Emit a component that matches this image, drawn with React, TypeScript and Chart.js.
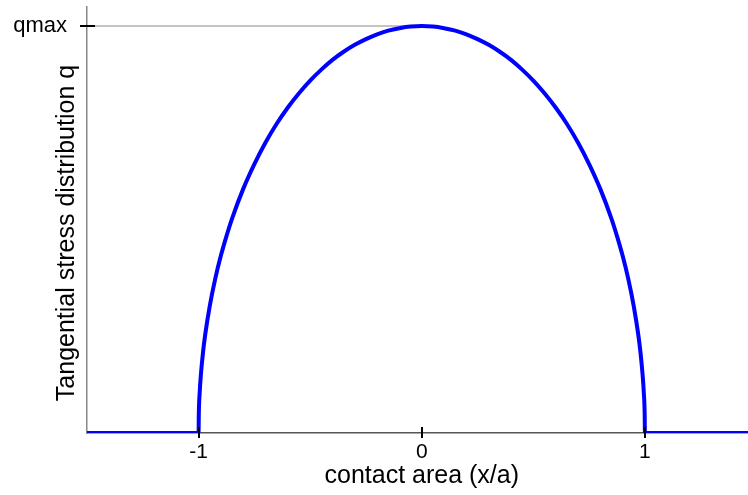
import React, { useEffect, useRef } from "react";
import { Chart, registerables } from "chart.js";

Chart.register(...registerables);

const curveX = [-1.5, -1, -0.999, -0.995, -0.99, -0.98, -0.97, -0.95, -0.925, -0.9, -0.875, -0.85, -0.8, -0.75, -0.7, -0.65, -0.6, -0.55, -0.5, -0.45, -0.4, -0.35, -0.3, -0.25, -0.2, -0.15, -0.1, -0.05, 0, 0.05, 0.1, 0.15, 0.2, 0.25, 0.3, 0.35, 0.4, 0.45, 0.5, 0.55, 0.6, 0.65, 0.7, 0.75, 0.8, 0.85, 0.875, 0.9, 0.925, 0.95, 0.97, 0.98, 0.99, 0.995, 0.999, 1, 1.462];
const curveQ = [0, 0, 0.045, 0.1, 0.141, 0.199, 0.243, 0.312, 0.38, 0.436, 0.484, 0.527, 0.6, 0.661, 0.714, 0.76, 0.8, 0.835, 0.866, 0.893, 0.917, 0.937, 0.954, 0.968, 0.98, 0.989, 0.995, 0.999, 1, 0.999, 0.995, 0.989, 0.98, 0.968, 0.954, 0.937, 0.917, 0.893, 0.866, 0.835, 0.8, 0.76, 0.714, 0.661, 0.6, 0.527, 0.484, 0.436, 0.38, 0.312, 0.243, 0.199, 0.141, 0.1, 0.045, 0, 0];
const refX = [-1.5, 0];
const refQ = [1, 1];
const xTicks = [-1, 0, 1];
const xTickLabels = ["-1", "0", "1"];
const yTicks = [1];
const yTickLabels = ["qmax"];
const xTitle = "contact area (x/a)";
const yTitle = "Tangential stress distribution q";

const FONT = "'Liberation Sans', Arial, sans-serif";

export default function App() {
  const ref = useRef<HTMLCanvasElement | null>(null);
  useEffect(() => {
    if (!ref.current) return;
    const overlay = {
      id: "overlay",
      afterDraw(chart: any) {
        const ctx = chart.ctx;
        const xs = chart.scales.x;
        const ys = chart.scales.y;
        const y0 = ys.getPixelForValue(0);
        const x0 = xs.left;
        ctx.save();
        ctx.strokeStyle = "#000";
        ctx.lineWidth = 2;
        xTicks.forEach((v) => {
          const px = Math.round(xs.getPixelForValue(v));
          ctx.beginPath();
          ctx.moveTo(px, y0 - 6);
          ctx.lineTo(px, y0 + 5);
          ctx.stroke();
        });
        yTicks.forEach((v) => {
          const py = Math.round(ys.getPixelForValue(v));
          ctx.beginPath();
          ctx.moveTo(x0 - 7, py);
          ctx.lineTo(x0 + 8, py);
          ctx.stroke();
        });
        ctx.fillStyle = "#000";
        ctx.font = `25px ${FONT}`;
        ctx.textAlign = "center";
        ctx.textBaseline = "middle";
        ctx.fillText(xTitle, (xs.getPixelForValue(-1) + xs.getPixelForValue(1)) / 2, 476);
        ctx.translate(67, 233);
        ctx.rotate(-Math.PI / 2);
        ctx.fillText(yTitle, 0, 0);
        ctx.restore();
      },
    };
    const chart = new Chart(ref.current, {
      type: "line",
      data: {
        datasets: [
          {
            data: refX.map((x, i) => ({ x, y: refQ[i] })),
            borderColor: "#c4c4c4",
            borderWidth: 2,
            pointRadius: 0,
            order: 2,
          },
          {
            data: curveX.map((x, i) => ({ x, y: curveQ[i] })),
            borderColor: "#0000ff",
            borderWidth: 4,
            pointRadius: 0,
            cubicInterpolationMode: "monotone",
            order: 1,
          },
        ],
      },
      options: {
        animation: false,
        responsive: false,
        maintainAspectRatio: false,
        layout: { padding: { top: 7, right: 0, left: 0, bottom: 0 } },
        plugins: { legend: { display: false }, tooltip: { enabled: false } },
        scales: {
          x: {
            type: "linear",
            min: -1.5,
            max: 1.462,
            afterFit: (s: any) => { s.height = 62; s.paddingLeft = 0; s.paddingRight = 0; },
            afterBuildTicks: (s: any) => { s.ticks = xTicks.map((v) => ({ value: v })); },
            grid: { display: false, drawTicks: false },
            border: { display: true, color: "#555", width: 1.5 },
            ticks: {
              padding: 7,
              color: "#000",
              font: { family: FONT, size: 21 },
              callback: (v: any) => { const i = xTicks.indexOf(v); return i >= 0 ? xTickLabels[i] : ""; },
              maxRotation: 0,
            },
          },
          y: {
            type: "linear",
            min: 0,
            max: 1.047,
            afterFit: (s: any) => { s.width = 87; s.paddingTop = 0; s.paddingBottom = 0; },
            afterBuildTicks: (s: any) => { s.ticks = yTicks.map((v) => ({ value: v })); },
            grid: { display: false, drawTicks: false },
            border: { display: true, color: "#888", width: 1.5 },
            ticks: {
              padding: 20,
              color: "#000",
              font: { family: FONT, size: 22 },
              callback: (v: any) => { const i = yTicks.indexOf(v); return i >= 0 ? yTickLabels[i] : ""; },
            },
          },
        },
      },
      plugins: [overlay],
    } as any);
    return () => chart.destroy();
  }, []);
  return (
    <div style={{ position: "fixed", left: 0, top: 0, width: 748, height: 495, background: "#fff" }}>
      <canvas ref={ref} width={748} height={495} style={{ width: 748, height: 495 }} />
    </div>
  );
}
